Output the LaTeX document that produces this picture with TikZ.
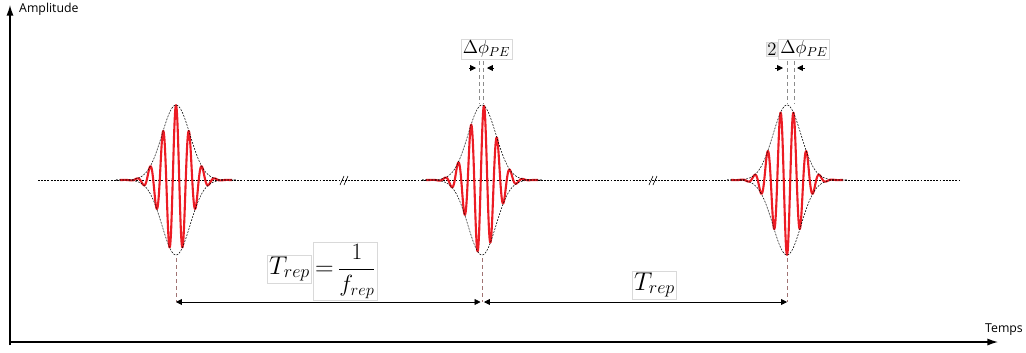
\RequirePackage{fix-cm}
\documentclass[tikz,border=0pt]{standalone}
\usepackage{fontspec}
\newfontfamily\axisfont{Open Sans}
\usetikzlibrary{arrows.meta}
\definecolor{pulsered}{RGB}{236,28,36}
\definecolor{guidegray}{RGB}{140,140,140}
\definecolor{guidebrown}{RGB}{160,115,115}

\begin{document}
\begin{tikzpicture}[x=0.03cm,y=-0.03cm,
    axis/.style={line width=1.1pt,-{Latex[length=9pt,width=6pt]}},
    dimarrow/.style={line width=0.6pt,{Triangle[length=5pt,width=5pt]}-{Triangle[length=5pt,width=5pt]}},
    phasetip/.style={line width=0.6pt,-{Triangle[length=5pt,width=5pt]}},
    envelope/.style={line width=0.45pt,dash pattern=on 1.6pt off 1.1pt},
    eqbox/.style={draw=black!15,line width=0.4pt,inner sep=1.5pt,font=\fontsize{22}{26}\selectfont},
    phasebox/.style={draw=black!15,line width=0.4pt,inner sep=1.5pt,font=\fontsize{16}{19}\selectfont},
    axislabel/.style={font=\axisfont\fontsize{10.5}{12}\selectfont,inner sep=0pt}]
  \useasboundingbox (0,0) rectangle (1026,352);
  % Axes
  \coordinate (origin) at (10,345);
  \coordinate (ytip) at (10,5);
  \coordinate (xstart) at (10,342);
  \coordinate (xtip) at (998,342);
  \draw[axis] (origin) -- (ytip);
  \draw[axis] (xstart) -- (xtip);
  \node[axislabel,anchor=west] (amplabel) at (19,9) {Amplitude};
  \node[axislabel] (tempslabel) at (1004,330) {Temps};
  % Time line with breaks
  \coordinate (linestart) at (38,180);
  \coordinate (lineend) at (960,180);
  \draw[envelope] (linestart) -- (lineend);
  \foreach \bx in {343,652}{
    \draw[line width=0.5pt] (\bx-3,185) -- (\bx+1,176);
    \draw[line width=0.5pt] (\bx+1,185) -- (\bx+5,176);
  }
  % Pulses: carrier under a gaussian envelope
  \foreach \xc/\s/\n in {176/0/a, 482/2/b, 787/6.5/c}{
    \draw[pulsered,line width=1.8pt,line join=round]
      plot[domain=-56:56,samples=320,smooth]
      ({\xc+\x},{180-75*exp(-\x*\x/390)*cos(deg(2*pi*(\x-\s)/13))});
    \draw[envelope] plot[domain=-60:60,samples=90,smooth] ({\xc+\x},{180-75*exp(-\x*\x/390)});
    \draw[envelope] plot[domain=-60:60,samples=90,smooth] ({\xc+\x},{180+75*exp(-\x*\x/390)});
    \coordinate (bot\n) at (\xc,258);
    \coordinate (dim\n) at (\xc,302);
    \draw[guidebrown,dashed,line width=0.5pt] (bot\n) -- (dim\n);
  }
  % Repetition period
  \coordinate (dimbl) at (480.5,302);
  \coordinate (dimbr) at (484,302);
  \draw[dimarrow] (dima) -- (dimbl);
  \draw[dimarrow] (dimbr) -- (dimc);
  \node[eqbox] (trepa) at (289.5,269) {$T_{rep}$};
  \node[eqbox,anchor=west] (freqa) at ([xshift=1pt,yshift=-2pt]trepa.east)
    {$=$\,{\fontsize{20}{24}\selectfont$\displaystyle\frac{1}{f_{rep}}$}};
  \node[eqbox] (trepc) at (654.5,285) {$T_{rep}$};
  % Carrier-envelope phase shift
  \node[phasebox] (dphib) at (486.5,49) {$\Delta\phi_{PE}$};
  \node[phasebox,fill=black!8,inner sep=0.8pt] (twoc) at (772,49) {$2$};
  \node[phasebox,anchor=west] (dphic) at ([xshift=0.5pt]twoc.east) {$\Delta\phi_{PE}$};
  \foreach \gx/\n in {479/b1, 483.5/b2, 787.5/c1, 794/c2}{
    \coordinate (gtop\n) at (\gx,61);
    \coordinate (gbot\n) at (\gx,104);
    \draw[guidegray,dashed,line width=0.5pt] (gtop\n) -- (gbot\n);
  }
  \coordinate (tipbl) at (469,68);
  \coordinate (tipbr) at (494,68);
  \coordinate (tipcl) at (775,68);
  \coordinate (tipcr) at (805,68);
  \draw[phasetip] (tipbl) -- (476,68);
  \draw[phasetip] (tipbr) -- (487,68);
  \draw[phasetip] (tipcl) -- (783,68);
  \draw[phasetip] (tipcr) -- (797,68);
\end{tikzpicture}
\end{document}
